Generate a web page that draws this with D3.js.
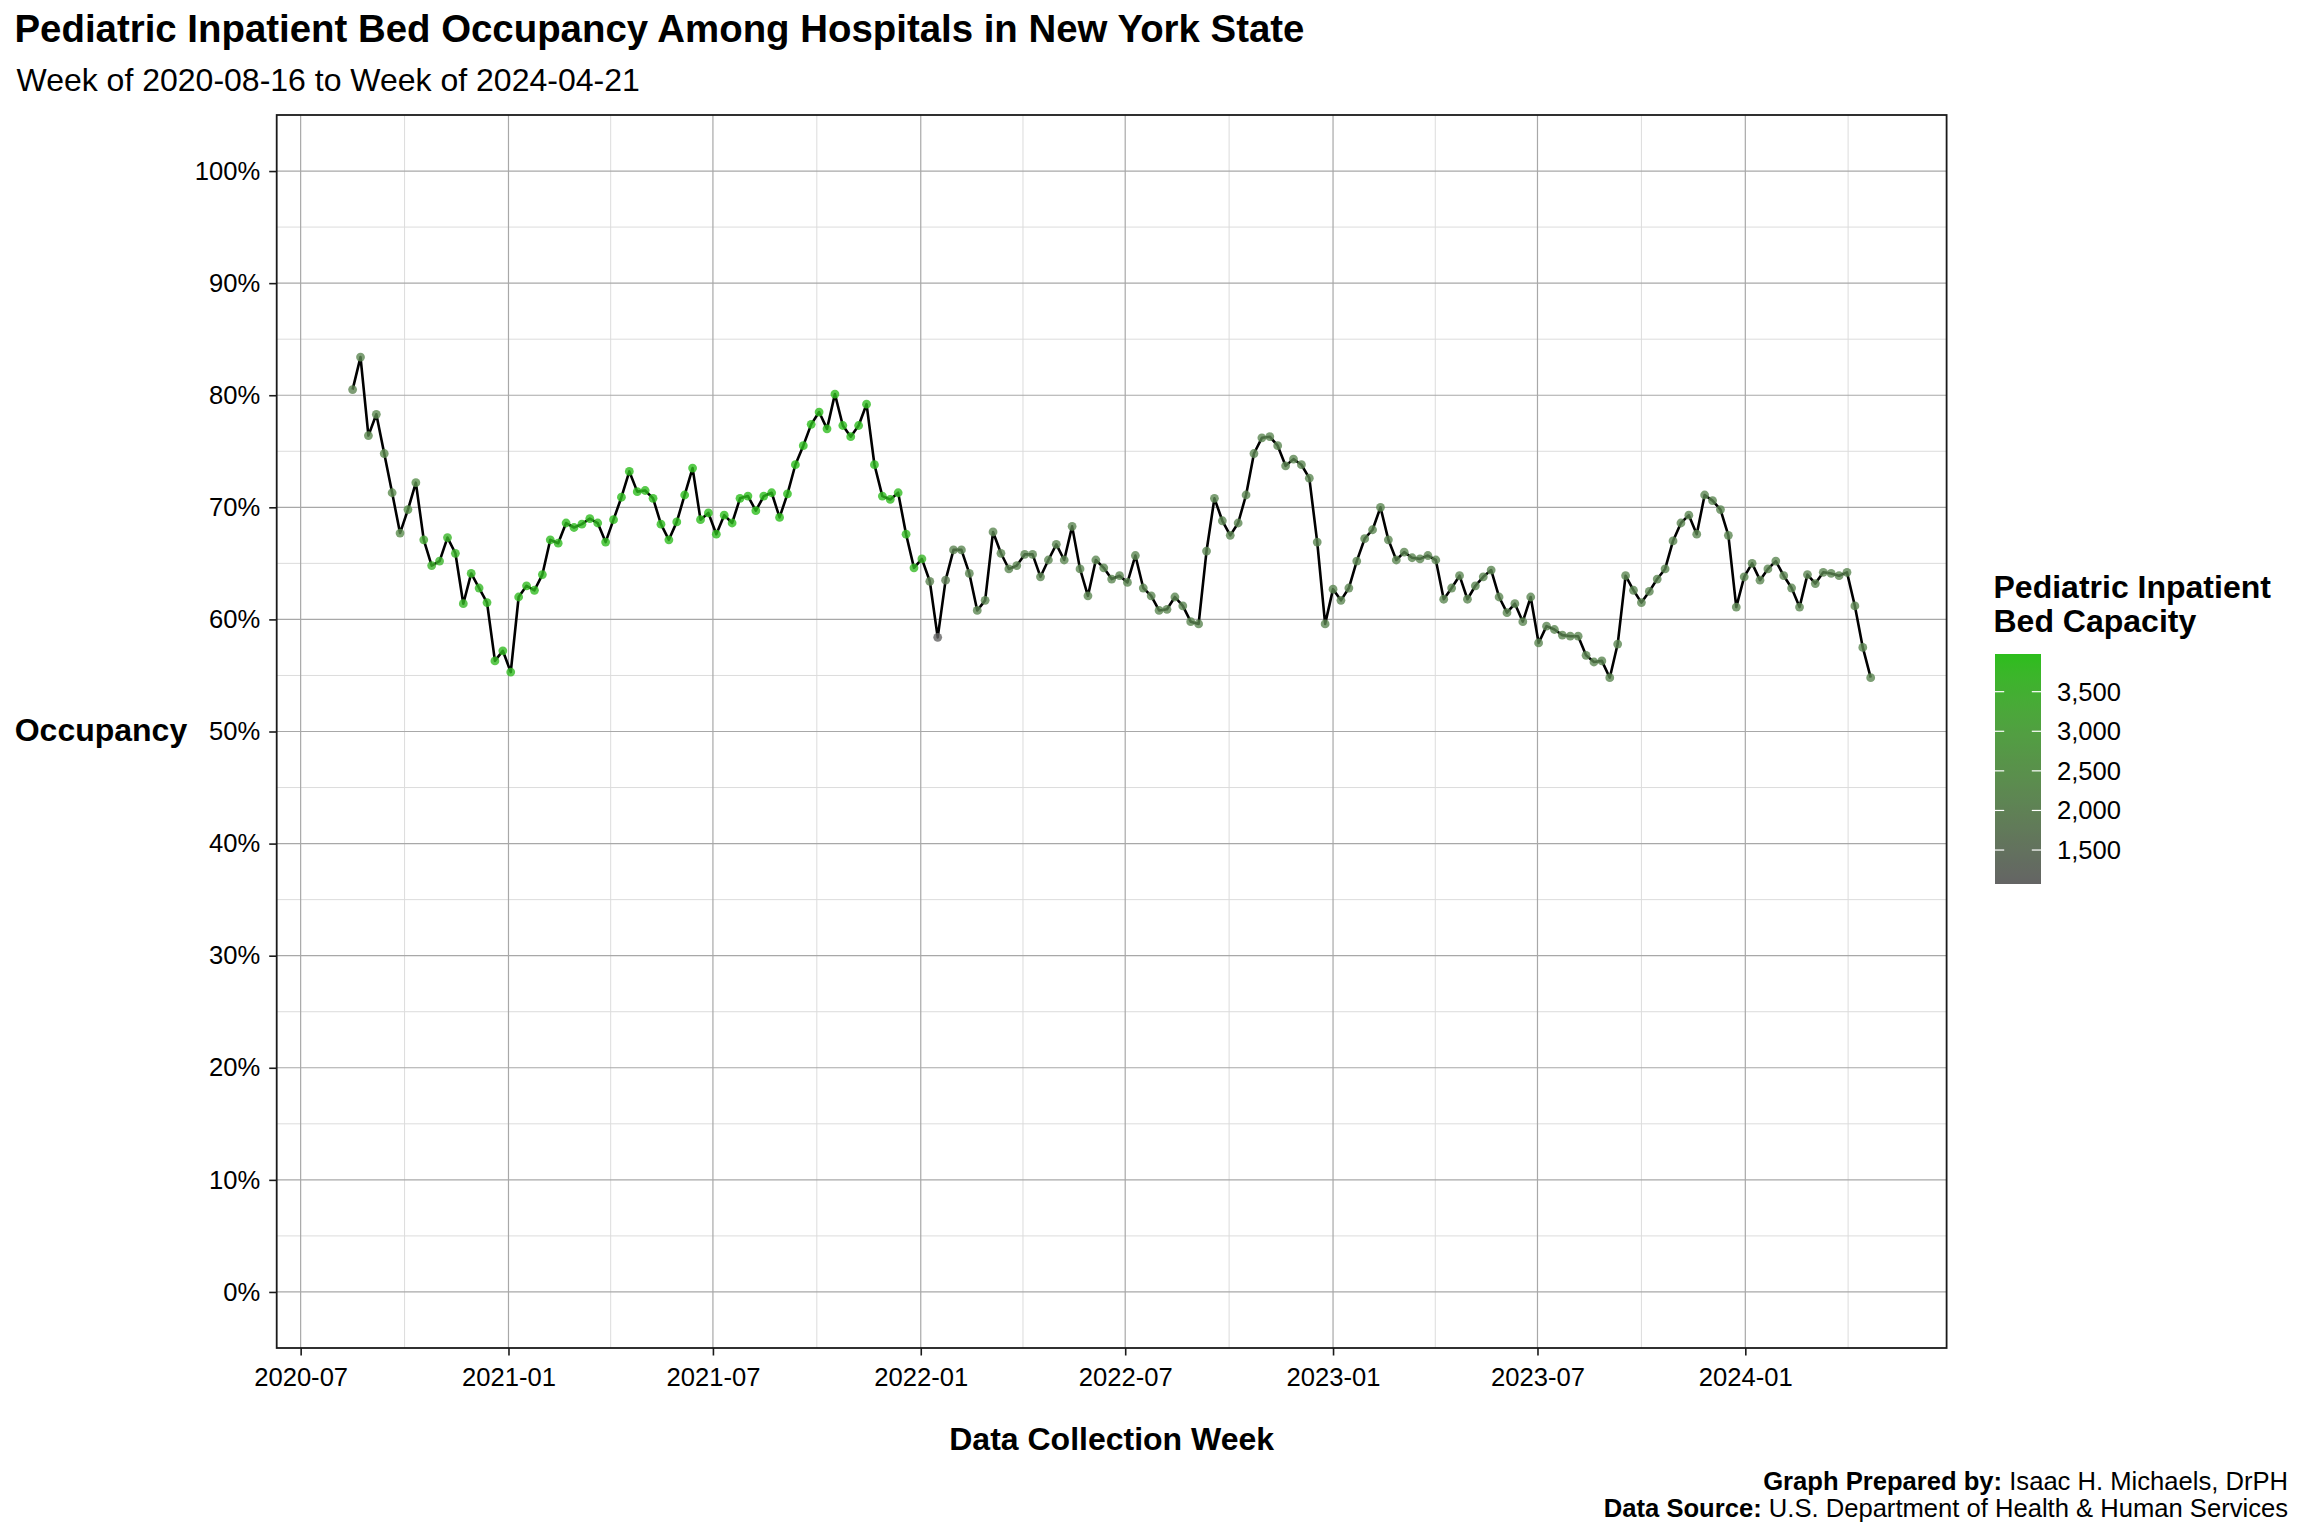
<!DOCTYPE html>
<html><head><meta charset="utf-8">
<script src="https://cdn.jsdelivr.net/npm/d3@7"></script>
<style>
html,body{margin:0;padding:0;background:#fff;}
svg{display:block;font-family:"Liberation Sans",Arial,Helvetica,sans-serif;}
</style></head><body>
<svg id="chart" width="2304" height="1536"></svg>
<script>
// ---------------- DATA ----------------
const firstWeek = "2020-08-16";
const lastWeek  = "2024-04-21";

// Weekly pediatric inpatient bed occupancy (%)
const occupancy = [
 80.5,83.4,76.4,78.3,74.8,71.3,67.7,69.8,72.2,67.1,
 64.8,65.2,67.3,65.9,61.4,64.1,62.8,61.5,56.3,57.2,
 55.3,62.0,63.0,62.6,64.0,67.1,66.8,68.6,68.2,68.5,
 69.0,68.6,66.9,68.9,70.9,73.2,71.4,71.5,70.8,68.5,
 67.1,68.7,71.1,73.5,68.9,69.5,67.6,69.3,68.6,70.8,
 71.0,69.7,71.0,71.3,69.1,71.2,73.8,75.5,77.4,78.5,
 77.0,80.1,77.3,76.3,77.3,79.2,73.8,71.0,70.7,71.3,
 67.6,64.6,65.4,63.4,58.4,63.5,66.2,66.2,64.1,60.8,
 61.7,67.8,65.9,64.5,64.8,65.8,65.8,63.8,65.3,66.7,
 65.3,68.3,64.5,62.1,65.3,64.6,63.6,63.9,63.3,65.7,
 62.8,62.1,60.8,60.9,62.0,61.2,59.8,59.6,66.1,70.8,
 68.8,67.5,68.6,71.1,74.8,76.2,76.3,75.5,73.7,74.3,
 73.8,72.6,66.9,59.6,62.7,61.7,62.8,65.2,67.2,68.0,
 70.0,67.1,65.3,66.0,65.5,65.4,65.7,65.3,61.8,62.8,
 63.9,61.8,63.0,63.8,64.4,62.0,60.6,61.4,59.8,62.0,
 57.9,59.4,59.1,58.6,58.5,58.5,56.8,56.2,56.3,54.8,
 57.8,63.9,62.6,61.5,62.5,63.6,64.5,67.0,68.6,69.3,
 67.6,71.1,70.6,69.8,67.5,61.1,63.8,65.0,63.5,64.5,
 65.2,63.9,62.8,61.1,64.0,63.2,64.2,64.1,63.9,64.2,
 61.2,57.5,54.8
];

// Weekly pediatric inpatient bed capacity (beds), estimated from point colour
const capacity = [
 2150,2200,2300,2300,2350,2350,2400,2550,2500,3350,
 3650,3700,3750,3750,3800,3800,3820,3850,3850,3870,
 3880,3880,3900,3900,3900,3910,3910,3920,3920,3930,
 3930,3920,3930,3940,3940,3950,3940,3950,3950,3940,
 3950,3950,3960,3960,3950,3960,3950,3960,3960,3970,
 3960,3970,3970,3960,3970,3976,3970,3960,3960,3950,
 3950,3940,3940,3930,3930,3920,3910,3900,3890,3880,
 3850,3800,3750,2150,1071,1950,2150,2200,2200,2200,
 2200,2200,2200,2200,2200,2200,2200,2200,2200,2200,
 2200,2200,2200,2200,2200,2200,2200,2200,2200,2200,
 2200,2200,2200,2200,2200,2200,2200,2200,2200,2200,
 2200,2200,2200,2200,2200,2200,2200,2200,2200,2200,
 2200,2200,2200,2200,2200,2200,2200,2200,2200,2200,
 2200,2200,2200,2200,2200,2200,2200,2200,2200,2200,
 2200,2200,2200,2200,2200,2200,2200,2200,2200,2200,
 2200,2200,2200,2200,2200,2200,2200,2200,2200,2200,
 2200,2200,2200,2200,2200,2200,2200,2200,2200,2200,
 2200,2200,2200,2200,2200,2200,2200,2200,2200,2200,
 2200,2200,2200,2200,2200,2200,2200,2200,2200,2200,
 2200,2200,2200
];

const xTickLabels = ["2020-07","2021-01","2021-07","2022-01","2022-07","2023-01","2023-07","2024-01"];
const yTickValues = [0,10,20,30,40,50,60,70,80,90,100];
const capacityTicks = [1500,2000,2500,3000,3500];

const titleText = "Pediatric Inpatient Bed Occupancy Among Hospitals in New York State";
const subtitleText = "Week of 2020-08-16 to Week of 2024-04-21";
const xTitle = "Data Collection Week";
const yTitle = "Occupancy";
const legendTitle = ["Pediatric Inpatient","Bed Capacity"];

// ---------------- SETUP ----------------
const FONT_BASE = 32;
const svg = d3.select("#chart");
svg.append("rect").attr("width",2304).attr("height",1536).attr("fill","#fff");

const parseDay = d3.utcParse("%Y-%m-%d");
const parseMonth = d3.utcParse("%Y-%m");
const start = parseDay(firstWeek), end = parseDay(lastWeek);
const weeks = d3.utcWeek.range(start, d3.utcDay.offset(end, 1));
const data = weeks.map((d,i)=>({date:d, occ:occupancy[i], cap:capacity[i]}));

const panel = {left:276.7, right:1946.6, top:115, bottom:1348};
const span = end - start;
const x = d3.scaleUtc()
  .domain([new Date(+start - 0.05*span), new Date(+end + 0.05*span)])
  .range([panel.left, panel.right]);
const y = d3.scaleLinear().domain([-5,105]).range([panel.bottom, panel.top]);

const capExtent = d3.extent(capacity);
const colLow = "#646464", colHigh = "#2cbe1c";
const color = d3.scaleLinear().domain(capExtent).range([colLow, colHigh]).interpolate(d3.interpolateLab);

// ---------------- GRID ----------------
const xTicks = xTickLabels.map(parseMonth);
const xMinor = [];
for (let i=0;i<xTicks.length;i++){
  const a = xTicks[i];
  const b = i<xTicks.length-1 ? xTicks[i+1] : d3.utcMonth.offset(a,6);
  xMinor.push(new Date((+a + +b)/2));
}
const yMinor = yTickValues.slice(0,-1).map(v=>v+5);

const grid = svg.append("g");
grid.selectAll(".ymin").data(yMinor).join("line")
  .attr("x1",panel.left).attr("x2",panel.right)
  .attr("y1",d=>y(d)).attr("y2",d=>y(d))
  .attr("stroke","#dcdcdc").attr("stroke-width",1);
grid.selectAll(".xmin").data(xMinor.filter(d=>x(d)<panel.right)).join("line")
  .attr("y1",panel.top).attr("y2",panel.bottom)
  .attr("x1",d=>x(d)).attr("x2",d=>x(d))
  .attr("stroke","#dcdcdc").attr("stroke-width",1);
grid.selectAll(".ymaj").data(yTickValues).join("line")
  .attr("x1",panel.left).attr("x2",panel.right)
  .attr("y1",d=>y(d)).attr("y2",d=>y(d))
  .attr("stroke","#a8a8a8").attr("stroke-width",1.2);
grid.selectAll(".xmaj").data(xTicks).join("line")
  .attr("y1",panel.top).attr("y2",panel.bottom)
  .attr("x1",d=>x(d)).attr("x2",d=>x(d))
  .attr("stroke","#a8a8a8").attr("stroke-width",1.2);

// ---------------- LINE + POINTS ----------------
const line = d3.line().x(d=>x(d.date)).y(d=>y(d.occ));
svg.append("path").datum(data).attr("d",line)
  .attr("fill","none").attr("stroke","#000").attr("stroke-width",2.6)
  .attr("stroke-linejoin","round");

svg.append("g").selectAll("circle").data(data).join("circle")
  .attr("cx",d=>x(d.date)).attr("cy",d=>y(d.occ)).attr("r",4.4)
  .attr("fill",d=>color(d.cap)).attr("fill-opacity",0.8);

// panel border
svg.append("rect").attr("x",panel.left).attr("y",panel.top)
  .attr("width",panel.right-panel.left).attr("height",panel.bottom-panel.top)
  .attr("fill","none").attr("stroke","#1a1a1a").attr("stroke-width",1.8);

// ---------------- AXES ----------------
const xAxis = d3.axisBottom(x).tickValues(xTicks).tickFormat(d3.utcFormat("%Y-%m"))
  .tickSize(7.5).tickSizeOuter(0).tickPadding(12);
const gx = svg.append("g").attr("transform",`translate(0,${panel.bottom})`).call(xAxis);
gx.select(".domain").remove();
gx.selectAll("line").attr("stroke","#1a1a1a").attr("stroke-width",1.6);
gx.selectAll("text").attr("font-size",FONT_BASE*0.8).attr("fill","#000")
  .attr("font-family",'"Liberation Sans",Arial,Helvetica,sans-serif');

const yAxis = d3.axisLeft(y).tickValues(yTickValues).tickFormat(d=>d+"%")
  .tickSize(7.5).tickSizeOuter(0).tickPadding(9);
const gy = svg.append("g").attr("transform",`translate(${panel.left},0)`).call(yAxis);
gy.select(".domain").remove();
gy.selectAll("line").attr("stroke","#1a1a1a").attr("stroke-width",1.6);
gy.selectAll("text").attr("font-size",FONT_BASE*0.8).attr("fill","#000")
  .attr("font-family",'"Liberation Sans",Arial,Helvetica,sans-serif');

// axis titles
svg.append("text").attr("x",(panel.left+panel.right)/2).attr("y",1438.5).attr("dy","0.35em")
  .attr("text-anchor","middle").attr("font-weight","bold").attr("font-size",FONT_BASE)
  .text(xTitle);
svg.append("text").attr("x",14.7).attr("y",(panel.top+panel.bottom)/2).attr("dy","0.3em")
  .attr("font-weight","bold").attr("font-size",FONT_BASE).text(yTitle);

// ---------------- TITLES ----------------
svg.append("text").attr("x",14.5).attr("y",42).attr("font-weight","bold")
  .attr("font-size",FONT_BASE*1.2).text(titleText);
svg.append("text").attr("x",16.5).attr("y",91).attr("font-size",FONT_BASE).text(subtitleText);

// ---------------- CAPTION ----------------
const cap1 = svg.append("text").attr("x",2288).attr("y",1490).attr("text-anchor","end").attr("font-size",FONT_BASE*0.8);
cap1.append("tspan").attr("font-weight","bold").text("Graph Prepared by:");
cap1.append("tspan").text(" Isaac H. Michaels, DrPH");
const cap2 = svg.append("text").attr("x",2288).attr("y",1517).attr("text-anchor","end").attr("font-size",FONT_BASE*0.8);
cap2.append("tspan").attr("font-weight","bold").text("Data Source:");
cap2.append("tspan").text(" U.S. Department of Health & Human Services");

// ---------------- LEGEND ----------------
const lg = {x:1995, w:46, top:654, bottom:884};
legendTitle.forEach((t,i)=>{
  svg.append("text").attr("x",1993.5).attr("y",598 + i*34).attr("font-weight","bold")
    .attr("font-size",FONT_BASE).text(t);
});
const defs = svg.append("defs");
const grad = defs.append("linearGradient").attr("id","capgrad")
  .attr("x1",0).attr("y1",1).attr("x2",0).attr("y2",0);
d3.range(0,1.0001,0.05).forEach(t=>{
  grad.append("stop").attr("offset",t).attr("stop-color",color(capExtent[0]+t*(capExtent[1]-capExtent[0])));
});
svg.append("rect").attr("x",lg.x).attr("y",lg.top).attr("width",lg.w).attr("height",lg.bottom-lg.top)
  .attr("fill","url(#capgrad)");
const ly = d3.scaleLinear().domain(capExtent).range([lg.bottom, lg.top]);
const lt = svg.append("g");
lt.selectAll(".tl").data(capacityTicks).join("line")
  .attr("x1",lg.x).attr("x2",lg.x+9.2).attr("y1",d=>ly(d)).attr("y2",d=>ly(d))
  .attr("stroke","#fff").attr("stroke-width",1.2);
lt.selectAll(".tr").data(capacityTicks).join("line")
  .attr("x1",lg.x+lg.w-9.2).attr("x2",lg.x+lg.w).attr("y1",d=>ly(d)).attr("y2",d=>ly(d))
  .attr("stroke","#fff").attr("stroke-width",1.2);
lt.selectAll("text").data(capacityTicks).join("text")
  .attr("x",2057).attr("y",d=>ly(d)).attr("dy","0.35em")
  .attr("font-size",FONT_BASE*0.8).text(d=>d3.format(",")(d));
</script>
</body></html>
